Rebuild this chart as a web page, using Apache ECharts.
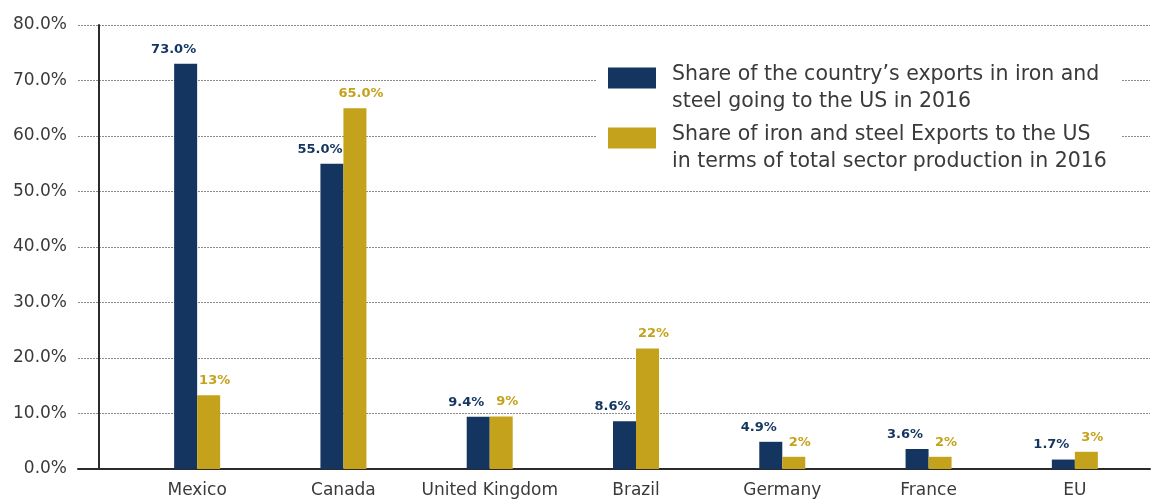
<!DOCTYPE html>
<html>
<head>
<meta charset="utf-8">
<script src="https://cdn.jsdelivr.net/npm/echarts@6/dist/echarts.min.js"></script>
<style>
  html, body { margin: 0; padding: 0; background: #fff; }
  #chart { width: 1159px; height: 499px; }
</style>
</head>
<body>
<div id="chart"></div>
<script>
// Countries on the horizontal axis
const countries = ['Mexico', 'Canada', 'United Kingdom', 'Brazil', 'Germany', 'France', 'EU'];

// Series names (shown in the legend)
const seriesExportShare = 'Share of the country\u2019s exports in iron and\nsteel going to the US in 2016';
const seriesProductionShare = 'Share of iron and steel Exports to the US\nin terms of total sector production in 2016';

// Values in percent
const exportShare = [73.0, 55.0, 9.4, 8.6, 4.9, 3.6, 1.7];
const productionShare = [13.3, 65.0, 9.45, 21.7, 2.2, 2.2, 3.1];
// Decimals printed in the value labels of the second series
const productionDecimals = [0, 1, 0, 0, 0, 0, 0];

// Vertical axis range and step
const yMin = 0, yMax = 80, yStep = 10;

const NAVY = '#13355f';
const GOLD = '#c5a21b';
const TEXT = '#3a3a3a';
const FONT = '"DejaVu Sans", "Noto Sans", sans-serif';

// Legend swatch: a 48x21 block sitting at the top of a 48x41 icon box,
// so the swatch lines up with the first line of the two-line legend text.
const SWATCH = 'path://M0,0H48V21H0Z M0,41L0.01,41';

const chart = echarts.init(document.getElementById('chart'));

chart.setOption({
  animation: false,
  backgroundColor: '#ffffff',
  grid: [
    // background grid: dotted lines and the baseline
    { left: 78, right: 9, top: 25, bottom: 30 },
    // bars
    { left: 124, right: 11, top: 25, bottom: 30 }
  ],
  legend: {
    orient: 'vertical',
    left: 596,
    top: 55,
    backgroundColor: '#ffffff',
    padding: [6, 15, 6, 12],
    itemWidth: 48,
    itemHeight: 41,
    itemGap: 6,
    icon: SWATCH,
    textStyle: {
      fontFamily: FONT,
      fontSize: 20.5,
      lineHeight: 27,
      color: TEXT,
      padding: [0, 0, 0, 11]
    },
    data: [seriesExportShare, seriesProductionShare]
  },
  xAxis: [
    {
      gridIndex: 0,
      type: 'category',
      data: countries,
      axisLine: { show: true, lineStyle: { color: '#2b2b2b', width: 2 } },
      axisTick: { show: false },
      axisLabel: { show: false },
      splitLine: { show: false }
    },
    {
      gridIndex: 1,
      type: 'category',
      data: countries,
      axisLine: { show: false },
      axisTick: { show: false },
      axisLabel: {
        interval: 0,
        color: TEXT,
        fontFamily: FONT,
        fontSize: 17,
        margin: 13
      }
    }
  ],
  yAxis: [
    {
      gridIndex: 0,
      type: 'value',
      min: yMin, max: yMax, interval: yStep,
      axisLine: { show: false },
      axisTick: { show: false },
      axisLabel: { show: false },
      splitLine: { show: true, lineStyle: { color: '#8a8a8a', type: [2, 1], width: 1 } }
    },
    {
      gridIndex: 1,
      type: 'value',
      min: yMin, max: yMax, interval: yStep,
      offset: 25,
      axisLine: { show: true, lineStyle: { color: '#2b2b2b', width: 2 } },
      axisTick: { show: false },
      splitLine: { show: false },
      axisLabel: {
        color: TEXT,
        fontFamily: FONT,
        fontSize: 17,
        margin: 32,
        formatter: v => v.toFixed(1) + '%'
      }
    }
  ],
  series: [
    {
      name: seriesExportShare,
      type: 'bar',
      xAxisIndex: 1,
      yAxisIndex: 1,
      data: exportShare,
      barWidth: 23,
      barGap: '0%',
      itemStyle: { color: NAVY },
      label: {
        show: true,
        position: 'top',
        distance: 8,
        offset: [-12, 0],
        color: NAVY,
        fontFamily: FONT,
        fontWeight: 'bold',
        fontSize: 13,
        formatter: p => p.value.toFixed(1) + '%'
      }
    },
    {
      name: seriesProductionShare,
      type: 'bar',
      xAxisIndex: 1,
      yAxisIndex: 1,
      data: productionShare,
      barWidth: 23,
      barGap: '0%',
      itemStyle: { color: GOLD },
      label: {
        show: true,
        position: 'top',
        distance: 8,
        offset: [6, 0],
        color: GOLD,
        fontFamily: FONT,
        fontWeight: 'bold',
        fontSize: 13,
        formatter: p => p.value.toFixed(productionDecimals[p.dataIndex]) + '%'
      }
    }
  ]
});
</script>
</body>
</html>
